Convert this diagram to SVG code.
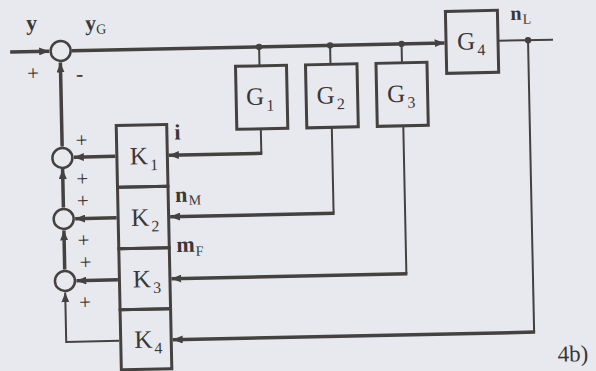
<svg xmlns="http://www.w3.org/2000/svg" width="596" height="371" viewBox="0 0 596 371">
<style>
.bx{fill:none;stroke:#454141;stroke-width:3}
.sm{fill:none;stroke:#454141;stroke-width:2.5}
.th{fill:none;stroke:#454141;stroke-width:3.5}
.tn{fill:none;stroke:#454141;stroke-width:2}
.dot{fill:#454141}
.lb{font-family:"Liberation Serif",serif;fill:#3a3737}
.bl{font-family:"Liberation Serif",serif;fill:#3a3737;font-weight:bold;font-size:22px}
.blk{font-size:25px}
.sub{font-size:16px}
.ss{font-size:14px;font-weight:normal}
.pl{font-family:"Liberation Serif",serif;fill:#3a3737;font-size:21px;text-anchor:middle}
</style>
<defs>
<marker id="ar" markerUnits="userSpaceOnUse" markerWidth="10" markerHeight="8" refX="10" refY="4" orient="auto">
<path d="M0,0 L10,4 L0,8 z" fill="#454141"/>
</marker>
</defs>
<rect x="0" y="0" width="596" height="371" fill="#e8e9ee"/>
<g transform="rotate(-1.2 300 185)">
<g id="connectors">
<path class="th" d="M13,46 H52" marker-end="url(#ar)"/>
<path class="th" d="M74.5,46 H447.5" marker-end="url(#ar)"/>
<path class="tn" d="M262,46 V65 M333,46 V65 M404.5,46 V65"/>
<path class="tn" d="M501,45 H556"/>
<path class="tn" d="M531,45 V337"/>
<path class="th" d="M532,337 H169.5" marker-end="url(#ar)"/>
<path class="tn" d="M262,128 V152.5"/>
<path class="th" d="M263,152.5 H169.5" marker-end="url(#ar)"/>
<path class="tn" d="M333,128 V214"/>
<path class="th" d="M334,214 H169.5" marker-end="url(#ar)"/>
<path class="tn" d="M404.5,128 V276"/>
<path class="th" d="M405.5,276 H169.5" marker-end="url(#ar)"/>
<path class="th" d="M116,152.5 H74.5" marker-end="url(#ar)"/>
<path class="th" d="M116,214 H74.5" marker-end="url(#ar)"/>
<path class="th" d="M116,276 H74.5" marker-end="url(#ar)"/>
<path class="tn" d="M116,337 H63 V287.5" marker-end="url(#ar)"/>
<path class="th" d="M63,141.5 V57.5" marker-end="url(#ar)"/>
<path class="th" d="M63,202.5 V164" marker-end="url(#ar)"/>
<path class="th" d="M63,264.5 V225.5" marker-end="url(#ar)"/>
<circle class="dot" cx="262" cy="46" r="3.2"/>
<circle class="dot" cx="333" cy="46" r="3.2"/>
<circle class="dot" cx="404.5" cy="46" r="3.2"/>
<circle class="dot" cx="531" cy="45" r="3.2"/>
</g>
<g id="sum1"><circle class="sm" cx="63.5" cy="46" r="10"/></g>
<g id="sum2"><circle class="sm" cx="63" cy="153" r="10"/></g>
<g id="sum3"><circle class="sm" cx="63" cy="214" r="10"/></g>
<g id="sum4"><circle class="sm" cx="63" cy="276" r="10"/></g>
<g id="G1"><rect class="bx" x="238" y="65" width="51" height="63"/><text class="lb blk" x="248" y="104">G<tspan class="sub" dx="2" dy="6">1</tspan></text></g>
<g id="G2"><rect class="bx" x="308" y="65" width="51.5" height="63"/><text class="lb blk" x="318.5" y="104">G<tspan class="sub" dx="2" dy="6">2</tspan></text></g>
<g id="G3"><rect class="bx" x="378.5" y="65" width="51" height="63"/><text class="lb blk" x="389" y="104">G<tspan class="sub" dx="2" dy="6">3</tspan></text></g>
<g id="G4"><rect class="bx" x="449" y="14.5" width="52" height="62"/><text class="lb blk" x="460" y="53">G<tspan class="sub" dx="2" dy="6">4</tspan></text></g>
<g id="K1"><rect class="bx" x="117.5" y="121.7" width="50.5" height="61.7"/><text class="lb blk" x="130.5" y="161">K<tspan class="sub" dx="2" dy="6">1</tspan></text></g>
<g id="K2"><rect class="bx" x="117.5" y="183.4" width="50.5" height="61.6"/><text class="lb blk" x="130.5" y="222.5">K<tspan class="sub" dx="2" dy="6">2</tspan></text></g>
<g id="K3"><rect class="bx" x="117.5" y="245" width="50.5" height="61"/><text class="lb blk" x="131" y="284">K<tspan class="sub" dx="2" dy="6">3</tspan></text></g>
<g id="K4"><rect class="bx" x="117.5" y="306" width="50.5" height="60"/><text class="lb blk" x="131" y="344.5">K<tspan class="sub" dx="2" dy="6">4</tspan></text></g>
<g id="labels">
<text class="bl" x="29.5" y="24.5">y</text>
<text class="bl" x="88.5" y="26">y<tspan class="ss" dy="3.5">G</tspan></text>
<text class="bl" x="175.5" y="137">i</text>
<text class="bl" x="175" y="199.5">n<tspan class="ss" dx="1" dy="3">M</tspan></text>
<text class="bl" x="175" y="249.5">m<tspan class="ss" dx="1" dy="4">F</tspan></text>
<text class="bl" x="514" y="24.5" style="font-size:20px">n<tspan class="ss" dx="1" dy="4">L</tspan></text>
<text class="pl" x="35.5" y="74.5">+</text>
<text class="pl" x="82" y="76.5" style="font-size:22px">-</text>
<text class="pl" x="82.5" y="142.5">+</text>
<text class="pl" x="82.5" y="181">+</text>
<text class="pl" x="82.5" y="203">+</text>
<text class="pl" x="82.5" y="242.5">+</text>
<text class="pl" x="84" y="264.5">+</text>
<text class="pl" x="82.5" y="304.5">+</text>
<text class="lb" x="554" y="367" style="font-size:23px">4b)</text>
</g>
</g>
</svg>
